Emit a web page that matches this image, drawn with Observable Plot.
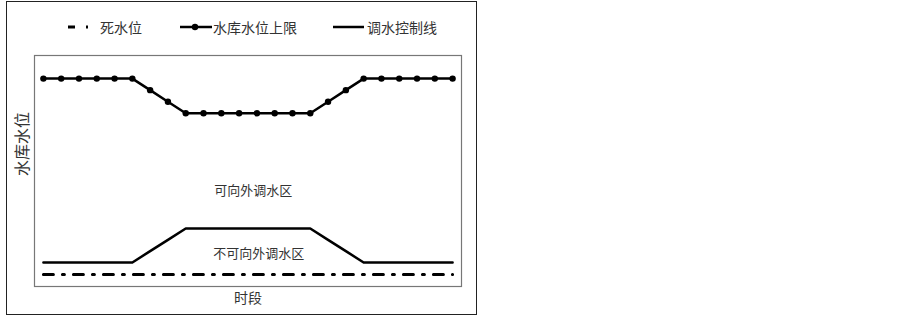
<!DOCTYPE html>
<html>
<head>
<meta charset="utf-8">
<script src="https://cdn.jsdelivr.net/npm/d3@7"></script>
<script src="https://cdn.jsdelivr.net/npm/@observablehq/plot@0.6"></script>
<style>
  html, body { margin: 0; padding: 0; background: #fff; }
  #page { position: relative; width: 903px; height: 318px; background: #fff; font-family: "Noto Sans CJK SC", sans-serif; color: #333; }
  #box { position: absolute; left: 6px; top: 1px; width: 469px; height: 312px; border: 1.5px solid #222; }
  .leg { position: absolute; top: 18px; height: 18px; display: flex; align-items: center; font-size: 14px; line-height: 18px; white-space: nowrap; }
  .leg svg { display: block; }
  #chart { position: absolute; left: 0; top: 45px; }
</style>
</head>
<body>
<div id="page">
  <div id="box"></div>
  <div class="leg" style="left:68px;">
    <svg width="24" height="18"><line x1="0" y1="9" x2="24" y2="9" stroke="#000" stroke-width="3" stroke-dasharray="7,11,2,20"/></svg>
    <span style="margin-left:8px;">死水位</span>
  </div>
  <div class="leg" style="left:180px;">
    <svg width="32" height="18"><line x1="0" y1="9" x2="32" y2="9" stroke="#000" stroke-width="2.5"/><circle cx="15" cy="9" r="3.2" fill="#000"/></svg>
    <span style="margin-left:1px;">水库水位上限</span>
  </div>
  <div class="leg" style="left:333px;">
    <svg width="31" height="18"><line x1="0" y1="9" x2="31" y2="9" stroke="#000" stroke-width="2.5"/></svg>
    <span style="margin-left:3px;">调水控制线</span>
  </div>
  <div id="chart"></div>
</div>
<script>
// Time period index (24 periods)
const periods = d3.range(24);
// Upper limit of reservoir water level (relative units)
const upperLimit = [90, 90, 90, 90, 90, 90, 85, 80, 75, 75, 75, 75, 75, 75, 75, 75, 80, 85, 90, 90, 90, 90, 90, 90];
// Water transfer control line
const controlLine = [10.4, 10.4, 10.4, 10.4, 10.4, 10.4, 15.3, 20.2, 25.1, 25.1, 25.1, 25.1, 25.1, 25.1, 25.1, 25.1, 20.2, 15.3, 10.4, 10.4, 10.4, 10.4, 10.4, 10.4];
// Dead water level
const deadLevel = [5.2, 5.2, 5.2, 5.2, 5.2, 5.2, 5.2, 5.2, 5.2, 5.2, 5.2, 5.2, 5.2, 5.2, 5.2, 5.2, 5.2, 5.2, 5.2, 5.2, 5.2, 5.2, 5.2, 5.2];
// Zone annotations
const zoneLabels = ["可向外调水区", "不可向外调水区"];
const zoneX = [11.8, 12.1];
const zoneY = [41.5, 14.3];
const xLabel = "时段";
const yLabel = "水库水位";

const upperData = periods.map((p, i) => ({x: p, y: upperLimit[i]}));
const controlData = periods.map((p, i) => ({x: p, y: controlLine[i]}));
const deadData = periods.map((p, i) => ({x: p, y: deadLevel[i]}));
const zoneData = zoneLabels.map((t, i) => ({text: t, x: zoneX[i], y: zoneY[i]}));

const chart = Plot.plot({
  width: 480,
  height: 270,
  marginLeft: 34,
  marginRight: 19,
  marginTop: 10,
  marginBottom: 29,
  style: {fontFamily: '"Noto Sans CJK SC", sans-serif', background: "transparent", overflow: "visible"},
  x: {domain: [-0.5, 23.5], axis: null},
  y: {domain: [0, 100], axis: null},
  marks: [
    Plot.frame({stroke: "#777", strokeWidth: 1.2}),
    Plot.line(deadData, {x: "x", y: "y", stroke: "#000", strokeWidth: 3, strokeDasharray: "10,9,2,9"}),
    Plot.line(controlData, {x: "x", y: "y", stroke: "#000", strokeWidth: 2.5}),
    Plot.line(upperData, {x: "x", y: "y", stroke: "#000", strokeWidth: 2.5}),
    Plot.dot(upperData, {x: "x", y: "y", r: 3.2, fill: "#000", stroke: "none"}),
    Plot.text(zoneData, {x: "x", y: "y", text: "text", fontSize: 13, fill: "#333"}),
    Plot.text([xLabel], {frameAnchor: "bottom", dy: 16, fontSize: 14, fill: "#333"}),
    Plot.text([yLabel], {frameAnchor: "left", rotate: -90, dx: -12, dy: 5, fontSize: 16, fill: "#333"})
  ]
});
document.getElementById("chart").appendChild(chart);
</script>
</body>
</html>
